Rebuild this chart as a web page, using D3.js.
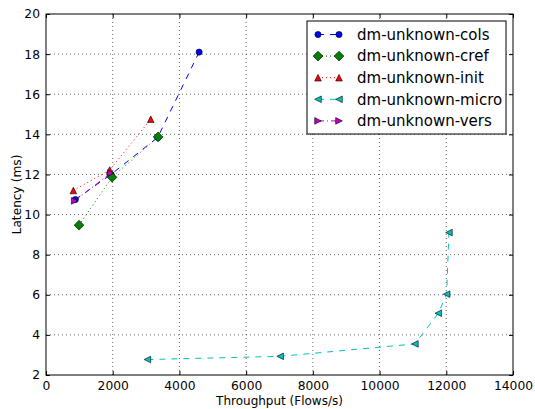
<!DOCTYPE html>
<html lang="en">
  <head>
    <meta charset="UTF-8" />
    <title>Latency vs Throughput</title>
    <script src="https://d3js.org/d3.v7.min.js"></script>
    <style>
      body { margin: 0; background: #fff; }
      text { font-family: "DejaVu Sans", sans-serif; }
    </style>
  </head>
  <body>
    <svg width="535" height="409"></svg>
    <script>
      // data
      const seriesNames = ["dm-unknown-cols", "dm-unknown-cref", "dm-unknown-init", "dm-unknown-micro", "dm-unknown-vers"];
      const colsX = [880, 1950, 3350, 4590];
      const colsY = [10.75, 12.0, 13.85, 18.1];
      const crefX = [990, 1980, 3360];
      const crefY = [9.47, 11.86, 13.87];
      const initX = [820, 1910, 3140];
      const initY = [11.2, 12.22, 14.75];
      const microX = [3040, 7020, 11060, 11760, 12010, 12080];
      const microY = [2.77, 2.93, 3.55, 5.08, 6.03, 9.1];
      const versX = [860, 1940];
      const versY = [10.68, 12.07];
      const xTicks = [0, 2000, 4000, 6000, 8000, 10000, 12000, 14000];
      const yTicks = [2, 4, 6, 8, 10, 12, 14, 16, 18, 20];

      const styles = [
        { color: "#0000ff", dash: "6,6", marker: "circle" },
        { color: "#008000", dash: "1,3", marker: "diamond" },
        { color: "#ff0000", dash: "1,3", marker: "triUp" },
        { color: "#00bfbf", dash: "6,6", marker: "triLeft" },
        { color: "#bf00bf", dash: "6,3,1,3", marker: "triRight" }
      ];
      const xs = [colsX, crefX, initX, microX, versX];
      const ys = [colsY, crefY, initY, microY, versY];
      const series = seriesNames.map((name, i) => ({
        name,
        style: styles[i],
        points: xs[i].map((x, j) => [x, ys[i][j]])
      }));

      const margin = { top: 14, right: 22, bottom: 34, left: 46 };
      const svg = d3.select("svg");
      const width = +svg.attr("width");
      const height = +svg.attr("height");
      const w = width - margin.left - margin.right;
      const h = height - margin.top - margin.bottom;

      const g = svg.append("g").attr("transform", `translate(${margin.left},${margin.top})`);

      const x = d3.scaleLinear().domain([0, 14000]).range([0, w]);
      const y = d3.scaleLinear().domain([2, 20]).range([h, 0]);

      // grid
      g.append("g").selectAll("line").data(xTicks.slice(1, -1)).join("line")
        .attr("x1", d => x(d)).attr("x2", d => x(d)).attr("y1", 0).attr("y2", h)
        .attr("stroke", "#000").attr("stroke-width", 0.6).attr("stroke-dasharray", "1,3");
      g.append("g").selectAll("line").data(yTicks.slice(1, -1)).join("line")
        .attr("y1", d => y(d)).attr("y2", d => y(d)).attr("x1", 0).attr("x2", w)
        .attr("stroke", "#000").attr("stroke-width", 0.6).attr("stroke-dasharray", "1,3");

      // axes with inward ticks on all sides
      const axStyle = sel => {
        sel.select(".domain").remove();
        sel.selectAll("text").attr("font-size", 12.3).attr("fill", "#000").attr("font-family", "DejaVu Sans");
        sel.selectAll("line").attr("stroke", "#000");
      };
      g.append("g").attr("transform", `translate(0,${h})`)
        .call(d3.axisBottom(x).tickValues(xTicks).tickFormat(d3.format("d")).tickSizeInner(-4).tickPadding(6.5))
        .call(axStyle);
      g.append("g")
        .call(d3.axisTop(x).tickValues(xTicks).tickSizeInner(-4).tickFormat(""))
        .call(axStyle);
      g.append("g")
        .call(d3.axisLeft(y).tickValues(yTicks).tickSizeInner(-4).tickPadding(6))
        .call(axStyle);
      g.append("g").attr("transform", `translate(${w},0)`)
        .call(d3.axisRight(y).tickValues(yTicks).tickSizeInner(-4).tickFormat(""))
        .call(axStyle);

      g.append("rect").attr("width", w).attr("height", h)
        .attr("fill", "none").attr("stroke", "#000").attr("stroke-width", 1);

      // axis titles
      svg.append("text").attr("x", margin.left + w / 2).attr("y", 405)
        .attr("text-anchor", "middle").attr("font-size", 12).text("Throughput (Flows/s)");
      svg.append("text").attr("transform", `translate(21,${margin.top + h / 2}) rotate(-90)`)
        .attr("text-anchor", "middle").attr("font-size", 12.2).text("Latency (ms)");

      // markers
      const markerPath = (type) => {
        const s = 3.3;
        switch (type) {
          case "circle": return d3.symbol(d3.symbolCircle, Math.PI * 3.1 * 3.1)();
          case "diamond": return "M0,-4.9L4.9,0L0,4.9L-4.9,0Z";
          case "triUp": return `M0,${-s}L${s},${s}L${-s},${s}Z`;
          case "triLeft": return `M${-s},0L${s},${-s}L${s},${s}Z`;
          case "triRight": return `M${s},0L${-s},${-s}L${-s},${s}Z`;
        }
      };
      const drawMarker = (sel, st) => sel.append("path")
        .attr("d", markerPath(st.marker))
        .attr("fill", st.color).attr("stroke", "#000").attr("stroke-width", 0.6);

      const line = d3.line().x(d => x(d[0])).y(d => y(d[1]));
      const plot = g.append("g");
      series.forEach(s => {
        plot.append("path").datum(s.points).attr("d", line)
          .attr("fill", "none").attr("stroke", s.style.color).attr("stroke-width", 1)
          .attr("stroke-dasharray", s.style.dash);
      });
      series.forEach(s => {
        s.points.forEach(p => {
          const m = plot.append("g").attr("transform", `translate(${x(p[0])},${y(p[1])})`);
          drawMarker(m, s.style);
        });
      });

      // legend
      const lg = svg.append("g").attr("transform", "translate(307,21)");
      lg.append("rect").attr("width", 199).attr("height", 113)
        .attr("fill", "#fff").attr("stroke", "#000").attr("stroke-width", 1);
      series.forEach((s, i) => {
        const row = lg.append("g").attr("transform", `translate(0,${13.5 + i * 21.6})`);
        row.append("line").attr("x1", 11).attr("x2", 32).attr("y1", 0).attr("y2", 0)
          .attr("stroke", s.style.color).attr("stroke-dasharray", s.style.dash);
        drawMarker(row.append("g").attr("transform", "translate(11,0)"), s.style);
        drawMarker(row.append("g").attr("transform", "translate(32,0)"), s.style);
        row.append("text").attr("x", 50).attr("y", 0).attr("dy", "0.35em")
          .attr("font-size", 15).text(s.name);
      });
    </script>
  </body>
</html>
